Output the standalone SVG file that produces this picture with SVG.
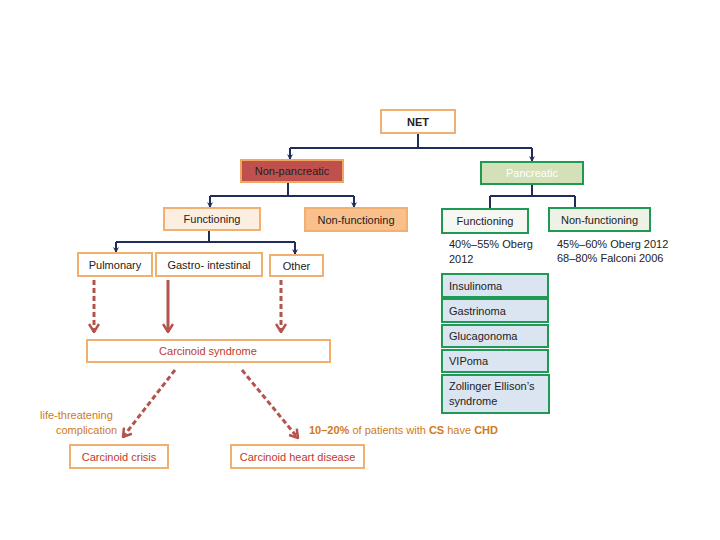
<svg xmlns="http://www.w3.org/2000/svg" width="720" height="540" viewBox="0 0 720 540">
<defs>
<marker id="ab" markerWidth="6" markerHeight="6" refX="5" refY="3" orient="auto" markerUnits="userSpaceOnUse" viewBox="0 0 6 6"><path d="M0,0 L6,3 L0,6 L2,3 Z" fill="#1f2d5a"/></marker>
<marker id="ar" markerWidth="10" markerHeight="12" refX="9" refY="6" orient="auto" markerUnits="userSpaceOnUse" viewBox="0 0 10 12"><path d="M1,1 L9,6 L1,11" fill="none" stroke="#b5524c" stroke-width="2.5"/></marker>
<style>
text{font-family:"Liberation Sans",Arial,sans-serif;font-size:11px;fill:#222}
.o{fill:#fff;stroke:#f0b070;stroke-width:2}
.g{fill:#dbe5f1;stroke:#1f9a55;stroke-width:2}
.t{fill:#c0392b}
.c{fill:#d07a20}
.b{fill:none;stroke:#1f2d5a;stroke-width:2}
.r{fill:none;stroke:#b5524c;stroke-width:3}
</style>
</defs>
<g id="connectors">
<path class="b" d="M418,133 V148 M290,148 H532"/>
<path class="b" d="M290,148 V159" marker-end="url(#ab)"/>
<path class="b" d="M532,148 V161" marker-end="url(#ab)"/>
<path class="b" d="M288,182 V196 M210,196 H354"/>
<path class="b" d="M210,196 V207" marker-end="url(#ab)"/>
<path class="b" d="M354,196 V207" marker-end="url(#ab)"/>
<path class="b" d="M532,184 V196 M490,196 H575 M490,196 V208 M575,196 V207"/>
<path class="b" d="M209,230 V242 M116,242 H295"/>
<path class="b" d="M116,242 V252" marker-end="url(#ab)"/>
<path class="b" d="M295,242 V254" marker-end="url(#ab)"/>
<path class="r" d="M94,280 V332" stroke-dasharray="5,3" marker-end="url(#ar)"/>
<path class="r" d="M168,280 V332" marker-end="url(#ar)" stroke-width="2"/>
<path class="r" d="M281,280 V332" stroke-dasharray="5,3" marker-end="url(#ar)"/>
<path class="r" d="M175,370 L123,437" stroke-dasharray="5,3" marker-end="url(#ar)"/>
<path class="r" d="M242,370 L298,438" stroke-dasharray="5,3" marker-end="url(#ar)"/>
</g>
<g id="net"><rect class="o" x="381" y="110" width="74" height="23"/><text x="418" y="125.5" text-anchor="middle" font-weight="bold">NET</text></g>
<g id="nonpanc"><rect x="241" y="160" width="102" height="22" fill="#c0504d" stroke="#f0a860" stroke-width="2"/><text x="292" y="175" text-anchor="middle">Non-pancreatic</text></g>
<g id="panc"><rect x="481" y="162" width="102" height="22" fill="#d3e0b8" stroke="#1f9a55" stroke-width="2"/><text x="532" y="177" text-anchor="middle" style="fill:#fff">Pancreatic</text></g>
<g id="func1"><rect x="164" y="208" width="96" height="22" fill="#fdeee2" stroke="#f0b070" stroke-width="2"/><text x="212" y="223" text-anchor="middle">Functioning</text></g>
<g id="nonfunc1"><rect x="305" y="208" width="102" height="23" fill="#f9c08e" stroke="#f0b070" stroke-width="2"/><text x="356" y="223.5" text-anchor="middle">Non-functioning</text></g>
<g id="func2"><rect x="442" y="209" width="86" height="24" fill="#f6f6f2" stroke="#1f9a55" stroke-width="2"/><text x="485" y="225" text-anchor="middle">Functioning</text></g>
<g id="nonfunc2"><rect x="549" y="208" width="101" height="23" fill="#eef2e4" stroke="#1f9a55" stroke-width="2"/><text x="599.5" y="223.5" text-anchor="middle">Non-functioning</text></g>
<g id="notes"><text x="449" y="248">40%–55% Oberg</text><text x="449" y="263">2012</text><text x="557" y="248">45%–60% Oberg 2012</text><text x="557" y="262">68–80% Falconi 2006</text></g>
<g id="pulm"><rect class="o" x="78" y="253" width="74" height="23"/><text x="115" y="268.5" text-anchor="middle">Pulmonary</text></g>
<g id="gi"><rect class="o" x="156" y="253" width="106" height="23"/><text x="209" y="268.5" text-anchor="middle">Gastro- intestinal</text></g>
<g id="other"><rect class="o" x="270" y="255" width="53" height="21"/><text x="296.5" y="269.5" text-anchor="middle">Other</text></g>
<g id="insul"><rect class="g" x="442" y="274" width="106" height="23"/><text x="449" y="289.5">Insulinoma</text></g>
<g id="gastr"><rect class="g" x="442" y="299" width="106" height="23"/><text x="449" y="314.5">Gastrinoma</text></g>
<g id="gluc"><rect class="g" x="442" y="325" width="106" height="22"/><text x="449" y="340">Glucagonoma</text></g>
<g id="vip"><rect class="g" x="442" y="350" width="106" height="22"/><text x="449" y="365">VIPoma</text></g>
<g id="zes"><rect class="g" x="442" y="375" width="107" height="38"/><text x="449" y="390">Zollinger Ellison’s</text><text x="449" y="405">syndrome</text></g>
<g id="cs"><rect class="o" x="87" y="340" width="243" height="22"/><text class="t" x="208" y="355" text-anchor="middle">Carcinoid syndrome</text></g>
<g id="labels"><text class="c" x="40" y="419">life-threatening</text><text class="c" x="56" y="434">complication</text><text class="c" x="309" y="434"><tspan font-weight="bold" class="c">10–20%</tspan> of patients with <tspan font-weight="bold" class="c">CS</tspan> have <tspan font-weight="bold" class="c">CHD</tspan></text></g>
<g id="crisis"><rect class="o" x="70" y="445" width="98" height="23"/><text class="t" x="119" y="460.5" text-anchor="middle">Carcinoid crisis</text></g>
<g id="chd"><rect class="o" x="231" y="445" width="133" height="23"/><text class="t" x="297.5" y="460.5" text-anchor="middle">Carcinoid heart disease</text></g>
</svg>
